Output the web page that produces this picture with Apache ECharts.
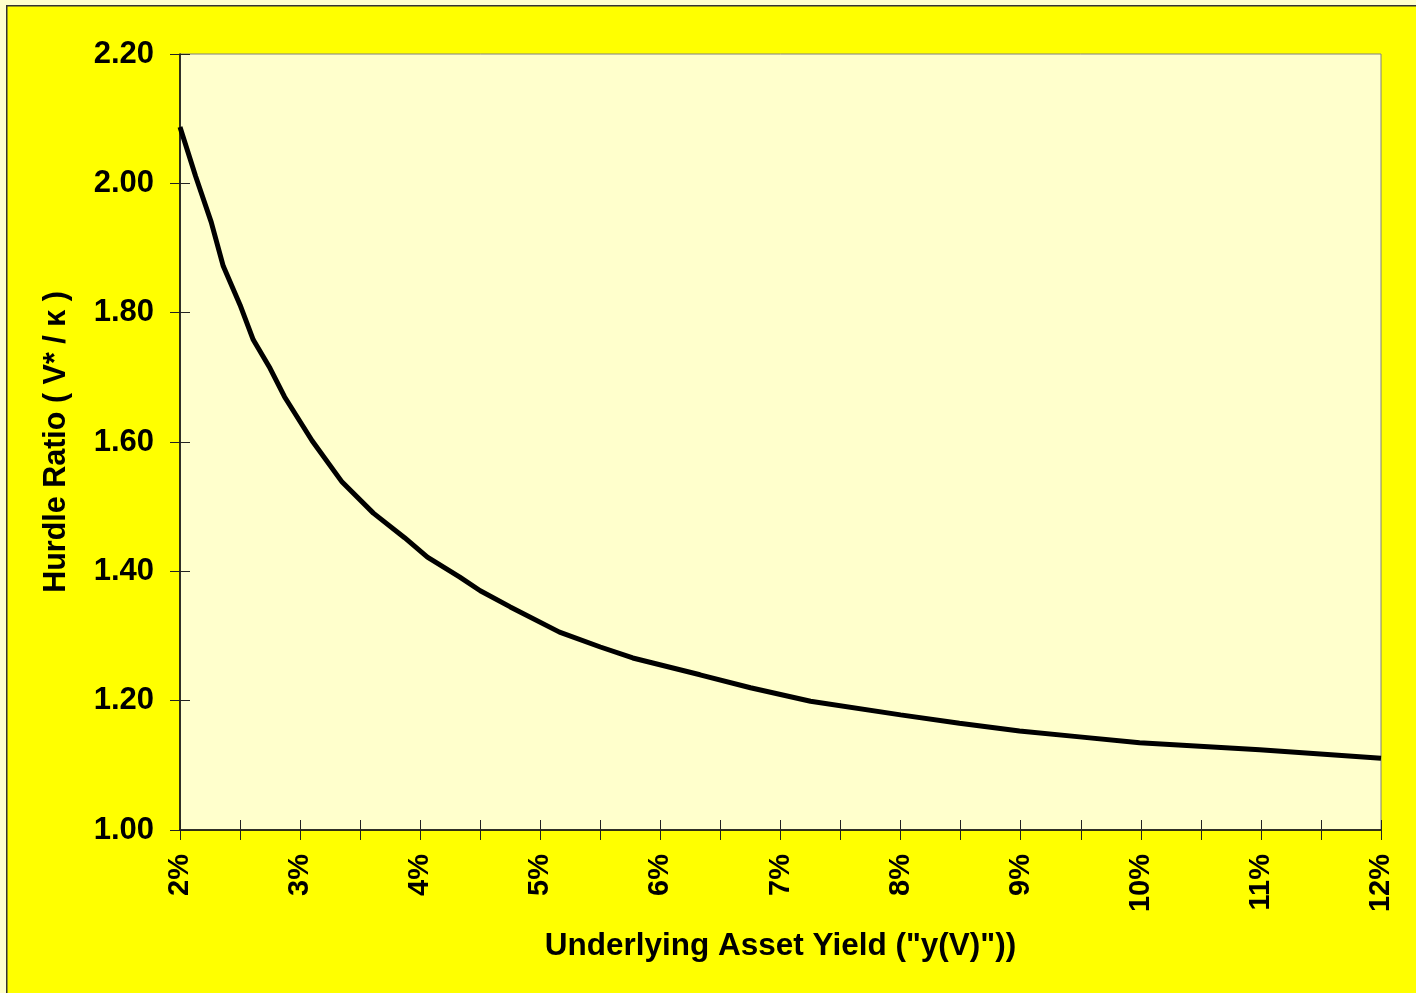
<!DOCTYPE html>
<html>
<head>
<meta charset="utf-8">
<script src="https://cdn.jsdelivr.net/npm/echarts@6/dist/echarts.min.js"></script>
<style>
  html, body { margin: 0; padding: 0; background: #ffffcc; }
  #chart { width: 1416px; height: 993px; }
</style>
</head>
<body>
<div id="chart"></div>
<script>
// underlying asset yield (%) and hurdle ratio V*/K
const yieldPct = [2.00, 2.13, 2.26, 2.36, 2.50, 2.61, 2.75, 2.87, 3.10, 3.35, 3.61, 3.87, 4.06, 4.33,
  4.50, 4.75, 5.16, 5.50, 5.77, 6.33, 6.75, 7.25, 8.00, 8.49, 8.99, 9.49, 9.99, 10.99, 12.00];
const hurdleRatio = [2.087, 2.011, 1.940, 1.872, 1.812, 1.758, 1.714, 1.670, 1.602, 1.538, 1.490, 1.452,
  1.422, 1.391, 1.370, 1.345, 1.306, 1.283, 1.266, 1.240, 1.220, 1.199, 1.178, 1.165, 1.153, 1.144,
  1.135, 1.124, 1.111];

const xTitle = 'Underlying Asset Yield ("y(V)"))';
const yTitle = "Hurdle Ratio ( V* / κ )";

const FONT = '"Liberation Sans", Arial, sans-serif';
const tickStyle = { color: "#222", width: 1 };

const chart = echarts.init(document.getElementById("chart"));

const xBase = { type: "value", min: 2, max: 12, interval: 1, position: "bottom" };
const yBase = { type: "value", min: 1, max: 2.2, interval: 0.2, position: "left" };

chart.setOption({
  backgroundColor: "#ffffcc",
  animation: false,
  graphic: [
    {
      type: "rect",
      left: 6,
      top: 5,
      shape: { width: 1430, height: 1000 },
      style: { fill: "#ffff00", stroke: "#333", lineWidth: 1.5 },
      z: -10,
    },
  ],
  grid: {
    left: 180,
    top: 54,
    right: 35,
    bottom: 163,
    show: true,
    backgroundColor: "#ffffcc",
    borderColor: "#808080",
    borderWidth: 1,
  },
  xAxis: [
    Object.assign({}, xBase, {
      name: xTitle,
      nameLocation: "middle",
      nameGap: 100,
      nameTextStyle: { fontFamily: FONT, fontWeight: "bold", fontSize: 31.5, color: "#000" },
      axisLine: { show: true, lineStyle: { color: "#000", width: 1.5 } },
      axisTick: { show: true, inside: false, length: 10, lineStyle: tickStyle },
      minorTick: { show: true, splitNumber: 2, length: 10, lineStyle: tickStyle },
      splitLine: { show: false },
      axisLabel: {
        rotate: 90,
        margin: 24,
        fontFamily: FONT,
        fontWeight: "bold",
        fontSize: 29,
        color: "#000",
        formatter: (v) => v + "%",
      },
    }),
    Object.assign({}, xBase, {
      axisLine: { show: false },
      axisTick: { show: true, inside: true, length: 10, lineStyle: tickStyle },
      minorTick: { show: true, splitNumber: 2, length: 10, lineStyle: tickStyle },
      splitLine: { show: false },
      axisLabel: { show: false },
    }),
  ],
  yAxis: [
    Object.assign({}, yBase, {
      name: yTitle,
      nameLocation: "middle",
      nameGap: 108,
      nameTextStyle: { fontFamily: FONT, fontWeight: "bold", fontSize: 30.5, color: "#000" },
      axisLine: { show: true, lineStyle: { color: "#000", width: 1.5 } },
      axisTick: { show: true, inside: false, length: 10, lineStyle: tickStyle },
      splitLine: { show: false },
      axisLabel: {
        margin: 26,
        fontFamily: FONT,
        fontWeight: "bold",
        fontSize: 31,
        color: "#000",
        formatter: (v) => v.toFixed(2),
      },
    }),
    Object.assign({}, yBase, {
      axisLine: { show: false },
      axisTick: { show: true, inside: true, length: 10, lineStyle: tickStyle },
      splitLine: { show: false },
      axisLabel: { show: false },
    }),
  ],
  series: [
    {
      type: "line",
      xAxisIndex: 0,
      yAxisIndex: 0,
      showSymbol: false,
      smooth: false,
      clip: false,
      lineStyle: { color: "#000", width: 5 },
      data: yieldPct.map((x, i) => [x, hurdleRatio[i]]),
      z: 5,
    },
  ],
});
</script>
</body>
</html>
